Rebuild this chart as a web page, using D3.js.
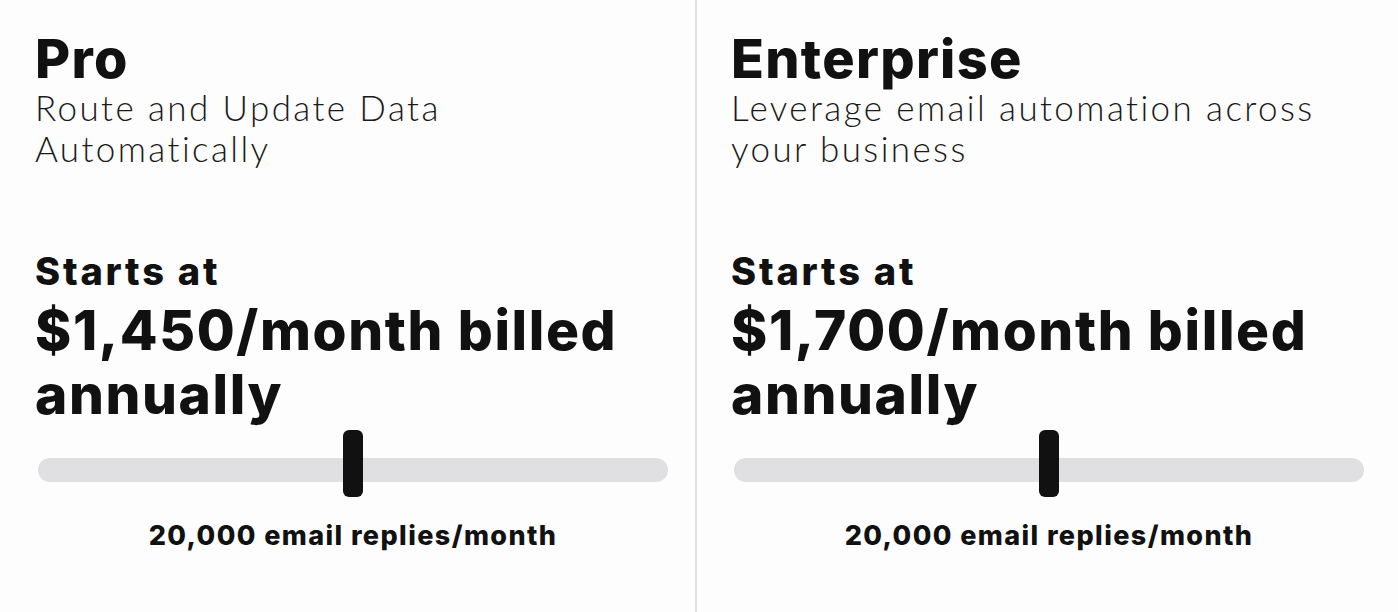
<!DOCTYPE html>
<html><head><meta charset="utf-8">
<script src="https://cdn.jsdelivr.net/npm/d3@7"></script>
<style>body{margin:0;background:#fdfdfd;}svg{display:block;}</style>
</head><body>
<svg id="chart" width="1398" height="612"></svg>
<script>
// plan data
var plans = ["Pro", "Enterprise"];
var subtitles = [["Route and Update Data", "Automatically"], ["Leverage email automation across", "your business"]];
var prices = ["$1,450", "$1,700"];
var replies = [20000, 20000];
var sliderDomain = [0, 40000];

var svg = d3.select('#chart');
var panelW = 696;
var panel = d3.scaleBand().domain(plans).range([0, panelW * 2]);

svg.append('line')
  .attr('x1', panelW).attr('x2', panelW).attr('y1', 0).attr('y2', 612)
  .attr('stroke', '#d4d4d4').attr('stroke-width', 1.5);

var bold = 'Inter, Lato, sans-serif';

plans.forEach(function(p, i) {
  var g = svg.append('g').attr('transform', 'translate(' + panel(p) + ',0)');
  g.append('text').attr('x', 35).attr('y', 78).text(p)
    .attr('font-family', bold).attr('font-weight', 800).attr('font-size', 54)
    .attr('letter-spacing', 1.3).attr('fill', '#111');
  subtitles[i].forEach(function(s, j) {
    g.append('text').attr('x', 35).attr('y', 121 + j * 41).text(s)
      .attr('font-family', 'Lato, sans-serif').attr('font-weight', 300).attr('font-size', 35)
      .attr('letter-spacing', 2.4).attr('fill', '#1a1a1a');
  });
  g.append('text').attr('x', 35).attr('y', 285).text('Starts at')
    .attr('font-family', bold).attr('font-weight', 800).attr('font-size', 38)
    .attr('letter-spacing', 2.8).attr('fill', '#111');
  g.append('text').attr('x', 35).attr('y', 350).text(prices[i] + '/month billed')
    .attr('font-family', bold).attr('font-weight', 800).attr('font-size', 55)
    .attr('letter-spacing', 1.6).attr('fill', '#111');
  g.append('text').attr('x', 35).attr('y', 414).text('annually')
    .attr('font-family', bold).attr('font-weight', 800).attr('font-size', 55)
    .attr('letter-spacing', 1.6).attr('fill', '#111');

  var x = d3.scaleLinear().domain(sliderDomain).range([50, 656]);
  g.append('rect').attr('x', x.range()[0] - 12).attr('y', 458)
    .attr('width', x.range()[1] - x.range()[0] + 24).attr('height', 24)
    .attr('rx', 12).attr('fill', '#e0dfe2');
  g.append('rect').attr('x', x(replies[i]) - 10).attr('y', 430)
    .attr('width', 20).attr('height', 67).attr('rx', 6).attr('fill', '#111');
  g.append('text').attr('x', x(replies[i])).attr('y', 545).attr('text-anchor', 'middle')
    .text(d3.format(',')(replies[i]) + ' email replies/month')
    .attr('font-family', bold).attr('font-weight', 800).attr('font-size', 27)
    .attr('letter-spacing', 1.4).attr('fill', '#111');
});
</script>
</body></html>
